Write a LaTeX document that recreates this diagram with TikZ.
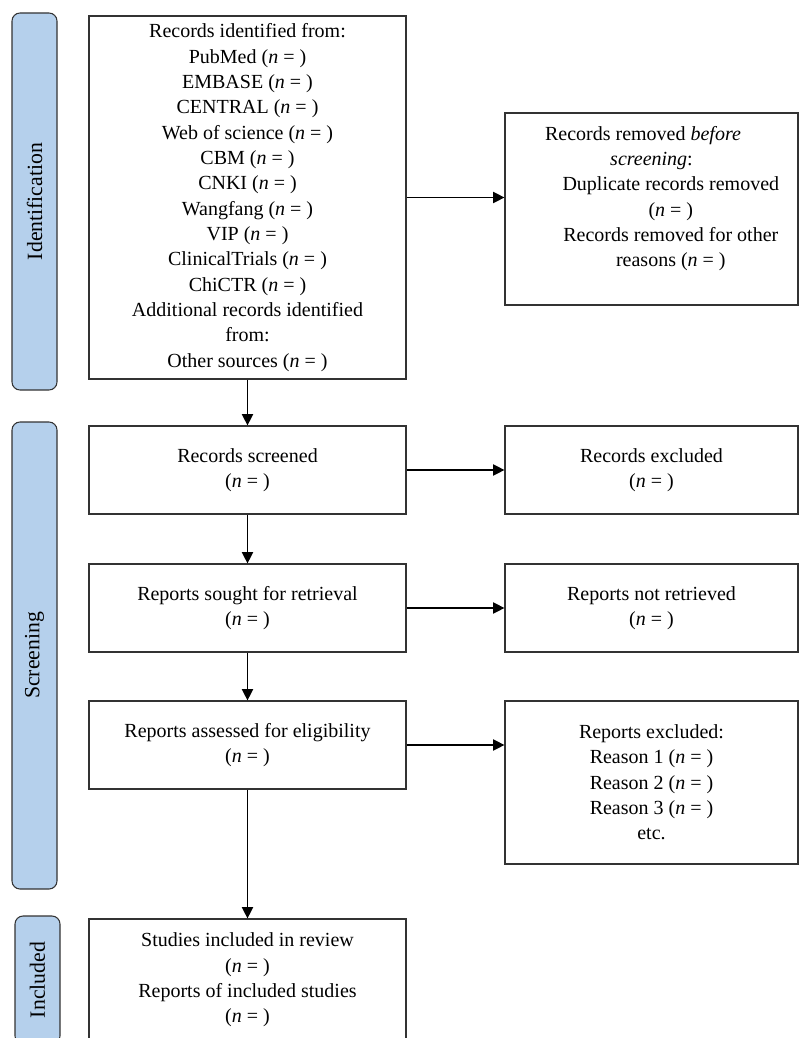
\documentclass[tikz,border=0pt]{standalone}
\usepackage{fontspec}
\setmainfont{Liberation Serif}
\usetikzlibrary{arrows.meta}
\definecolor{stagefill}{RGB}{181,208,236}
\begin{document}
\begin{tikzpicture}[x=0.75pt,y=-0.75pt,
box/.style={draw=black!80,line width=0.9pt,align=center,inner sep=0pt,font=\fontsize{15}{19}\selectfont},
stage/.style={draw=black!80,fill=stagefill,line width=0.8pt,rounded corners=6pt,rotate=90,inner sep=0pt,minimum height=33.75pt,font=\fontsize{16.3}{19}\selectfont},
arr/.style={line width=0.9pt,-{Triangle[length=8.5pt,width=8.5pt]}}]
\clip(0,0)rectangle(809,1038);
\node[stage,minimum width=282.75pt](idlab)at(34.5,201.5){Identification};
\node[stage,minimum width=350.25pt](scrlab)at(34.5,655.5){Screening};
\node[stage,minimum width=96pt](inclab)at(37.5,980){Included};
\node[box,minimum width=237.75pt,minimum height=272.25pt](ident)at(247.5,197.5){Records identified from:\\PubMed (\textit{n} = )\\EMBASE (\textit{n} = )\\CENTRAL (\textit{n} = )\\Web of science (\textit{n} = )\\CBM (\textit{n} = )\\CNKI (\textit{n} = )\\Wangfang (\textit{n} = )\\VIP (\textit{n} = )\\ClinicalTrials (\textit{n} = )\\ChiCTR (\textit{n} = )\\Additional records identified\\from:\\Other sources (\textit{n} = )};
\node[box,minimum width=219.75pt,minimum height=144pt](rem)at(651.5,209){Records removed \textit{before}\hspace*{12.75pt}\\\textit{screening}:\hspace*{12.75pt}\\\hspace*{29pt}Duplicate records removed\\\hspace*{29pt}(\textit{n} = )\\\hspace*{29pt}Records removed for other\\\hspace*{29pt}reasons (\textit{n} = )\\\mbox{}};
\node[box,minimum width=237.75pt,minimum height=66pt](scr)at(247.5,470){Records screened\\(\textit{n} = )};
\node[box,minimum width=219.75pt,minimum height=66pt](exc)at(651.5,470){Records excluded\\(\textit{n} = )};
\node[box,minimum width=237.75pt,minimum height=66pt](sought)at(247.5,608){Reports sought for retrieval\\(\textit{n} = )};
\node[box,minimum width=219.75pt,minimum height=66pt](notret)at(651.5,608){Reports not retrieved\\(\textit{n} = )};
\node[box,minimum width=237.75pt,minimum height=66pt](assess)at(247.5,745){Reports assessed for eligibility\\(\textit{n} = )};
\node[box,minimum width=219.75pt,minimum height=122.25pt](repexc)at(651.5,782.5){Reports excluded:\\Reason 1 (\textit{n} = )\\Reason 2 (\textit{n} = )\\Reason 3 (\textit{n} = )\\etc.};
\node[box,minimum width=237.75pt,minimum height=91.5pt](incl)at(247.5,980){Studies included in review\\(\textit{n} = )\\Reports of included studies\\(\textit{n} = )};
\foreach \a/\b in {ident/scr,scr/sought,sought/assess,assess/incl}{\draw[arr](\a)--(\b);}
\foreach \a/\b in {ident/rem,scr/exc,sought/notret,assess/repexc}{\draw[arr](\a.east)--(\a.east-|\b.west);}
\end{tikzpicture}
\end{document}
